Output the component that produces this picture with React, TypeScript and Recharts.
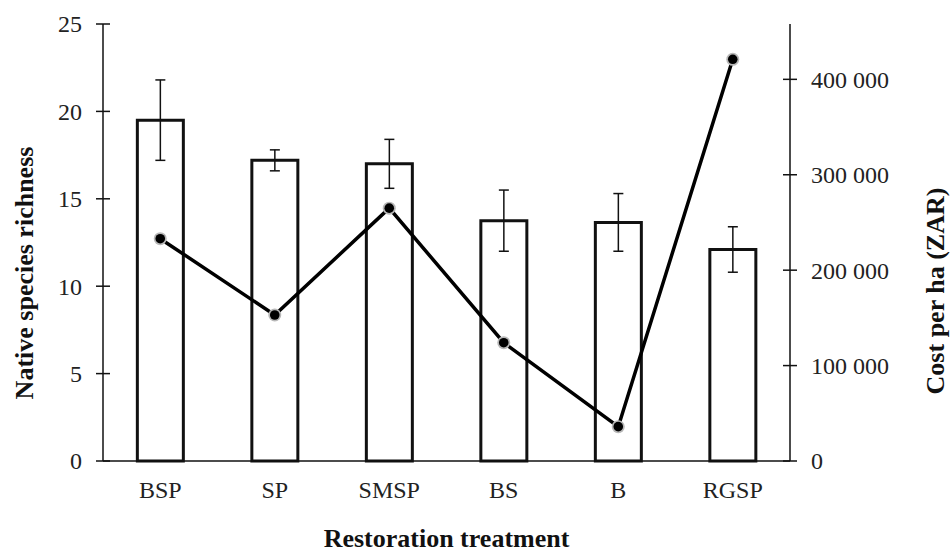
import React from 'react';
import { ComposedChart, Bar, Line, XAxis, YAxis, ErrorBar, Label } from 'recharts';

const categories = ['BSP', 'SP', 'SMSP', 'BS', 'B', 'RGSP'];
const richness = [19.5, 17.2, 17.0, 13.75, 13.65, 12.1];
const richnessErr = [2.3, 0.6, 1.4, 1.75, 1.65, 1.3];
const costPerHa = [233000, 153000, 265000, 124000, 36000, 421000];

const richnessTicks = [0, 5, 10, 15, 20, 25];
const costTicks = [0, 100000, 200000, 300000, 400000];
const costTickLabels = ['0', '100 000', '200 000', '300 000', '400 000'];

const FONT = '"Liberation Serif", "Times New Roman", serif';

const data = categories.map((name, i) => ({
  name,
  richness: richness[i],
  err: richnessErr[i],
  cost: costPerHa[i],
}));

// tick mark crossing the axis line plus the label
const LeftTick = (props: any) => {
  const { x, y, payload } = props;
  return (
    <g>
      <line x1={x - 7} x2={x + 7} y1={y} y2={y} stroke="#111" strokeWidth={1.5} />
      <text x={x - 21} y={y} dy="0.35em" textAnchor="end" fontFamily={FONT} fontSize={24} fill="#222">
        {payload.value}
      </text>
    </g>
  );
};

const RightTick = (props: any) => {
  const { x, y, payload } = props;
  const idx = costTicks.indexOf(payload.value);
  return (
    <g>
      <line x1={x - 7} x2={x + 7} y1={y} y2={y} stroke="#111" strokeWidth={1.5} />
      <text x={x + 21} y={y} dy="0.35em" textAnchor="start" fontFamily={FONT} fontSize={24} fill="#222">
        {idx >= 0 ? costTickLabels[idx] : payload.value}
      </text>
    </g>
  );
};

const CatTick = (props: any) => {
  const { x, y, payload } = props;
  return (
    <text x={x} y={y + 37} textAnchor="middle" fontFamily={FONT} fontSize={24} fill="#222">
      {payload.value}
    </text>
  );
};

const CostDot = (props: any) => {
  const { cx, cy, index } = props;
  return (
    <g key={`dot-${index}`}>
      <circle cx={cx} cy={cy} r={6.5} fill="#b8b8b8" />
      <circle cx={cx} cy={cy} r={4.8} fill="#000" />
    </g>
  );
};

const titleStyle = { fontFamily: FONT, fontSize: 26, fontWeight: 'bold' as const, fill: '#111' };

export default function App() {
  return (
    <div style={{ position: 'absolute', left: 0, top: 0, width: 950, height: 554, background: '#fff' }}>
      <ComposedChart
        width={950}
        height={554}
        data={data}
        margin={{ top: 24, right: 0, bottom: 0, left: 0 }}
        barCategoryGap="30%"
      >
        <XAxis
          dataKey="name"
          height={93}
          tickLine={false}
          tickSize={0}
          tickMargin={0}
          axisLine={{ stroke: '#111', strokeWidth: 1.5 }}
          tick={<CatTick />}
          interval={0}
        >
          <Label
            content={(p: any) => {
              const vb = p.viewBox;
              return (
                <text x={vb.x + vb.width / 2} y={547} textAnchor="middle" {...titleStyle}>
                  Restoration treatment
                </text>
              );
            }}
          />
        </XAxis>
        <YAxis
          yAxisId="left"
          width={103}
          domain={[0, 25]}
          ticks={richnessTicks}
          tickLine={false}
          tickSize={0}
          tickMargin={0}
          axisLine={{ stroke: '#111', strokeWidth: 1.5 }}
          tick={<LeftTick />}
        >
          <Label
            content={() => {
              const y = 273;
              return (
                <text x={33} y={y} transform={`rotate(-90, 33, ${y})`} textAnchor="middle" {...titleStyle}>
                  Native species richness
                </text>
              );
            }}
          />
        </YAxis>
        <YAxis
          yAxisId="right"
          orientation="right"
          width={160}
          domain={[0, 458000]}
          ticks={costTicks}
          tickLine={false}
          tickSize={0}
          tickMargin={0}
          axisLine={{ stroke: '#111', strokeWidth: 1.5 }}
          tick={<RightTick />}
        >
          <Label
            content={() => {
              const y = 291;
              return (
                <text x={944} y={y} transform={`rotate(-90, 944, ${y})`} textAnchor="middle" {...titleStyle}>
                  Cost per ha (ZAR)
                </text>
              );
            }}
          />
        </YAxis>
        <Bar
          yAxisId="left"
          dataKey="richness"
          fill="#fff"
          stroke="#111"
          strokeWidth={3}
          isAnimationActive={false}
        >
          <ErrorBar dataKey="err" width={5} stroke="#111" strokeWidth={1.5} direction="y" />
        </Bar>
        <Line
          yAxisId="right"
          dataKey="cost"
          type="linear"
          stroke="#000"
          strokeWidth={3.5}
          dot={<CostDot />}
          activeDot={false}
          isAnimationActive={false}
        />
      </ComposedChart>
    </div>
  );
}
